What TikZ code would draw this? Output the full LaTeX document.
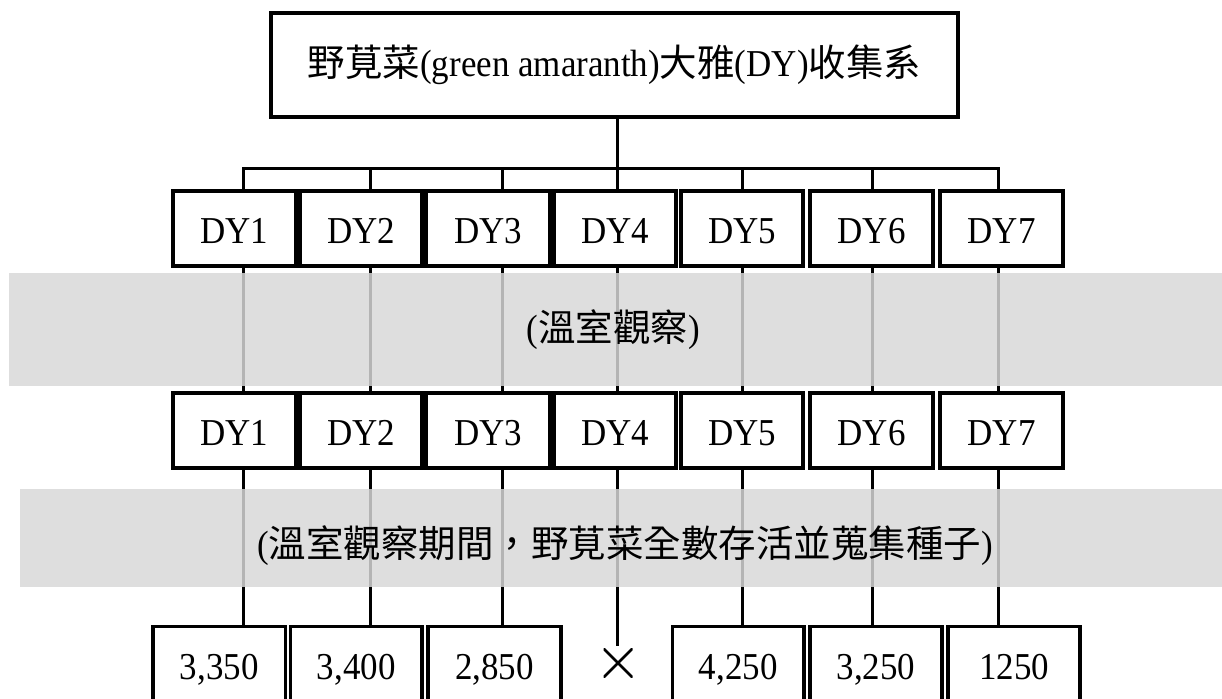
\documentclass[tikz,border=0pt]{standalone}
\usepackage{fontspec}
\setmainfont{Liberation Serif}[FakeStretch=0.92]
\newfontfamily\cjk{Noto Sans CJK TC}
\definecolor{bandgray}{RGB}{216,216,216}
\newcommand{\cj}[1]{{\cjk\fontsize{37.5}{40}\selectfont #1}}
\begin{document}
\begin{tikzpicture}[x=1pt,y=-1pt,
  box/.style={draw, line width=3.5pt, minimum height=75pt, inner sep=0pt, outer sep=0pt,
    fill=white, font=\fontsize{38}{40}\selectfont, text height=30pt, text depth=0pt},
  conn/.style={line width=3pt},
  band/.style={fill=bandgray, fill opacity=0.835, draw=none},
  bandtext/.style={inner sep=0pt, font=\fontsize{38}{40}\selectfont},
  crossmark/.style={minimum width=29pt, minimum height=29pt, inner sep=0pt, outer sep=0pt,
    path picture={\draw[line width=2.6pt]
      (path picture bounding box.north west) -- (path picture bounding box.south east)
      (path picture bounding box.north east) -- (path picture bounding box.south west);}},
]
\useasboundingbox (0,0) rectangle (1222,698);
\clip (0,0) rectangle (1222,698);

% top box
\node[box, line width=4pt, minimum width=687pt, minimum height=104pt, text height=23pt] (top) at (614.5,65)
  {\cj{野莧菜}(green amaranth)\cj{大雅}(DY)\cj{收集系}};

% row 1
\node[box, minimum width=123pt] (a1) at (234.5,228.5) {DY1};
\node[box, minimum width=122pt] (a2) at (361,228.5) {DY2};
\node[box, minimum width=124pt] (a3) at (488,228.5) {DY3};
\node[box, minimum width=122pt] (a4) at (615,228.5) {DY4};
\node[box, minimum width=122pt] (a5) at (742,228.5) {DY5};
\node[box, minimum width=123pt] (a6) at (871.5,228.5) {DY6};
\node[box, minimum width=123pt] (a7) at (1001.5,228.5) {DY7};

% row 2
\node[box, minimum width=123pt] (b1) at (234.5,430.5) {DY1};
\node[box, minimum width=122pt] (b2) at (361,430.5) {DY2};
\node[box, minimum width=124pt] (b3) at (488,430.5) {DY3};
\node[box, minimum width=122pt] (b4) at (615,430.5) {DY4};
\node[box, minimum width=122pt] (b5) at (742,430.5) {DY5};
\node[box, minimum width=123pt] (b6) at (871.5,430.5) {DY6};
\node[box, minimum width=123pt] (b7) at (1001.5,430.5) {DY7};

% bottom row
\node[box, minimum width=132.5pt] (d1) at (219.25,664) {3,350};
\node[box, minimum width=131.5pt] (d2) at (356.3,664) {3,400};
\node[box, minimum width=133pt] (d3) at (494.5,664) {2,850};
\node[crossmark] (d4) at (618,663) {};
\node[box, minimum width=131.5pt] (d5) at (738.3,664) {4,250};
\node[box, minimum width=132pt] (d6) at (876,664) {3,250};
\node[box, minimum width=132pt] (d7) at (1014,664) {1250};

% connector columns
\coordinate (c1) at (243,168);
\coordinate (c2) at (370,168);
\coordinate (c3) at (502,168);
\coordinate (c4) at (617,168);
\coordinate (c5) at (742,168);
\coordinate (c6) at (872,168);
\coordinate (c7) at (998,168);
\coordinate (x4top) at (617,646);

\begin{scope}[conn]
\draw (top.south -| c4) -- (c4);
\draw (a1.north -| c1) -- (c1) -- (c7) -- (a7.north -| c7);
\foreach \i in {2,...,6} {\draw (c\i) -- (a\i.north -| c\i);}
\foreach \i in {1,...,7} {\draw (a\i.south -| c\i) -- (b\i.north -| c\i);}
\foreach \i in {1,2,3,5,6,7} {\draw (b\i.south -| c\i) -- (d\i.north -| c\i);}
\draw (b4.south -| c4) -- (x4top);
\end{scope}

% bands
\fill[band] (9,273) rectangle (1230,386);
\fill[band] (20,489) rectangle (1230,587);
\node[bandtext] (t1) at (613,330) {(\cj{溫室觀察})};
\node[bandtext] (t2) at (625,546) {(\cj{溫室觀察期間，野莧菜全數存活並蒐集種子})};
\end{tikzpicture}
\end{document}
